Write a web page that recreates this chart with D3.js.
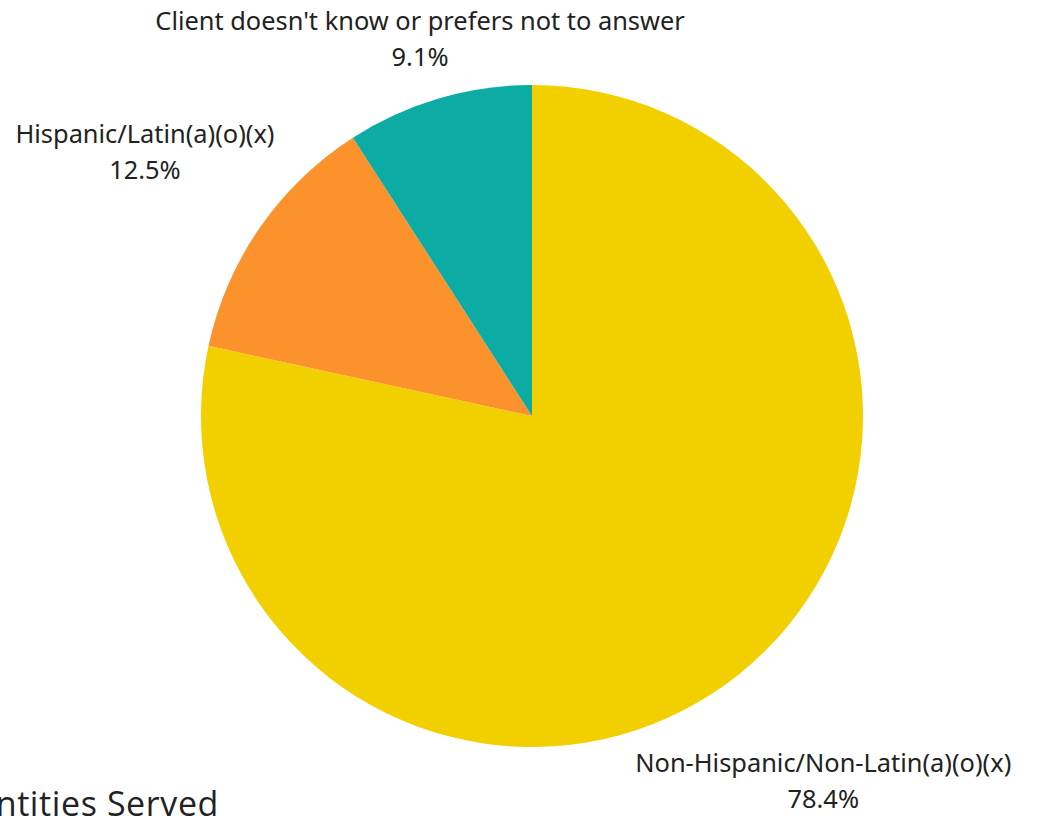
<!DOCTYPE html>
<html>
<head>
<meta charset="utf-8">
<script src="https://cdn.jsdelivr.net/npm/d3@7"></script>
<style>
  html, body { margin: 0; padding: 0; background: #ffffff; overflow: hidden; }
  svg { display: block; }
</style>
</head>
<body>
<svg id="chart" width="1037" height="816"></svg>
<script>
const categories = ["Non-Hispanic/Non-Latin(a)(o)(x)", "Hispanic/Latin(a)(o)(x)", "Client doesn't know or prefers not to answer"];
const values = [78.4, 12.5, 9.1];
const valueLabels = ["78.4%", "12.5%", "9.1%"];
const colors = ["#F2D000", "#FB922B", "#0CABA3"];
const title = "Ethnic Identities Served";

const svg = d3.select("#chart");
const cx = 532, cy = 416, r = 331;
const g = svg.append("g").attr("transform", `translate(${cx},${cy})`);

const pie = d3.pie().sort(null).value(d => d);
const arcs = pie(values);
const arc = d3.arc().innerRadius(0).outerRadius(r);

g.selectAll("path.slice").data(arcs).enter().append("path")
  .attr("class", "slice")
  .attr("d", arc)
  .attr("fill", (d, i) => colors[i]);

// label radii per slice (layout, not data)
const labelRadius = [464, 471, 397];
const font = "'Noto Sans', sans-serif";
arcs.forEach((d, i) => {
  const a = (d.startAngle + d.endAngle) / 2;
  const x = Math.sin(a) * labelRadius[i];
  const y = -Math.cos(a) * labelRadius[i];
  const t = g.append("text")
    .attr("x", x).attr("y", y)
    .attr("text-anchor", "middle")
    .attr("font-family", font)
    .attr("font-size", 25.4)
    .attr("fill", "#222");
  t.append("tspan").attr("x", x).attr("dy", "-0.2em").text(categories[i]);
  t.append("tspan").attr("x", x).attr("dy", "1.42em").text(valueLabels[i]);
});

svg.append("text")
  .attr("x", 219).attr("y", 816)
  .attr("text-anchor", "end")
  .attr("font-family", "'Open Sans', sans-serif")
  .attr("font-size", 34)
  .attr("letter-spacing", 0.6)
  .attr("fill", "#222")
  .text(title);
</script>
</body>
</html>
